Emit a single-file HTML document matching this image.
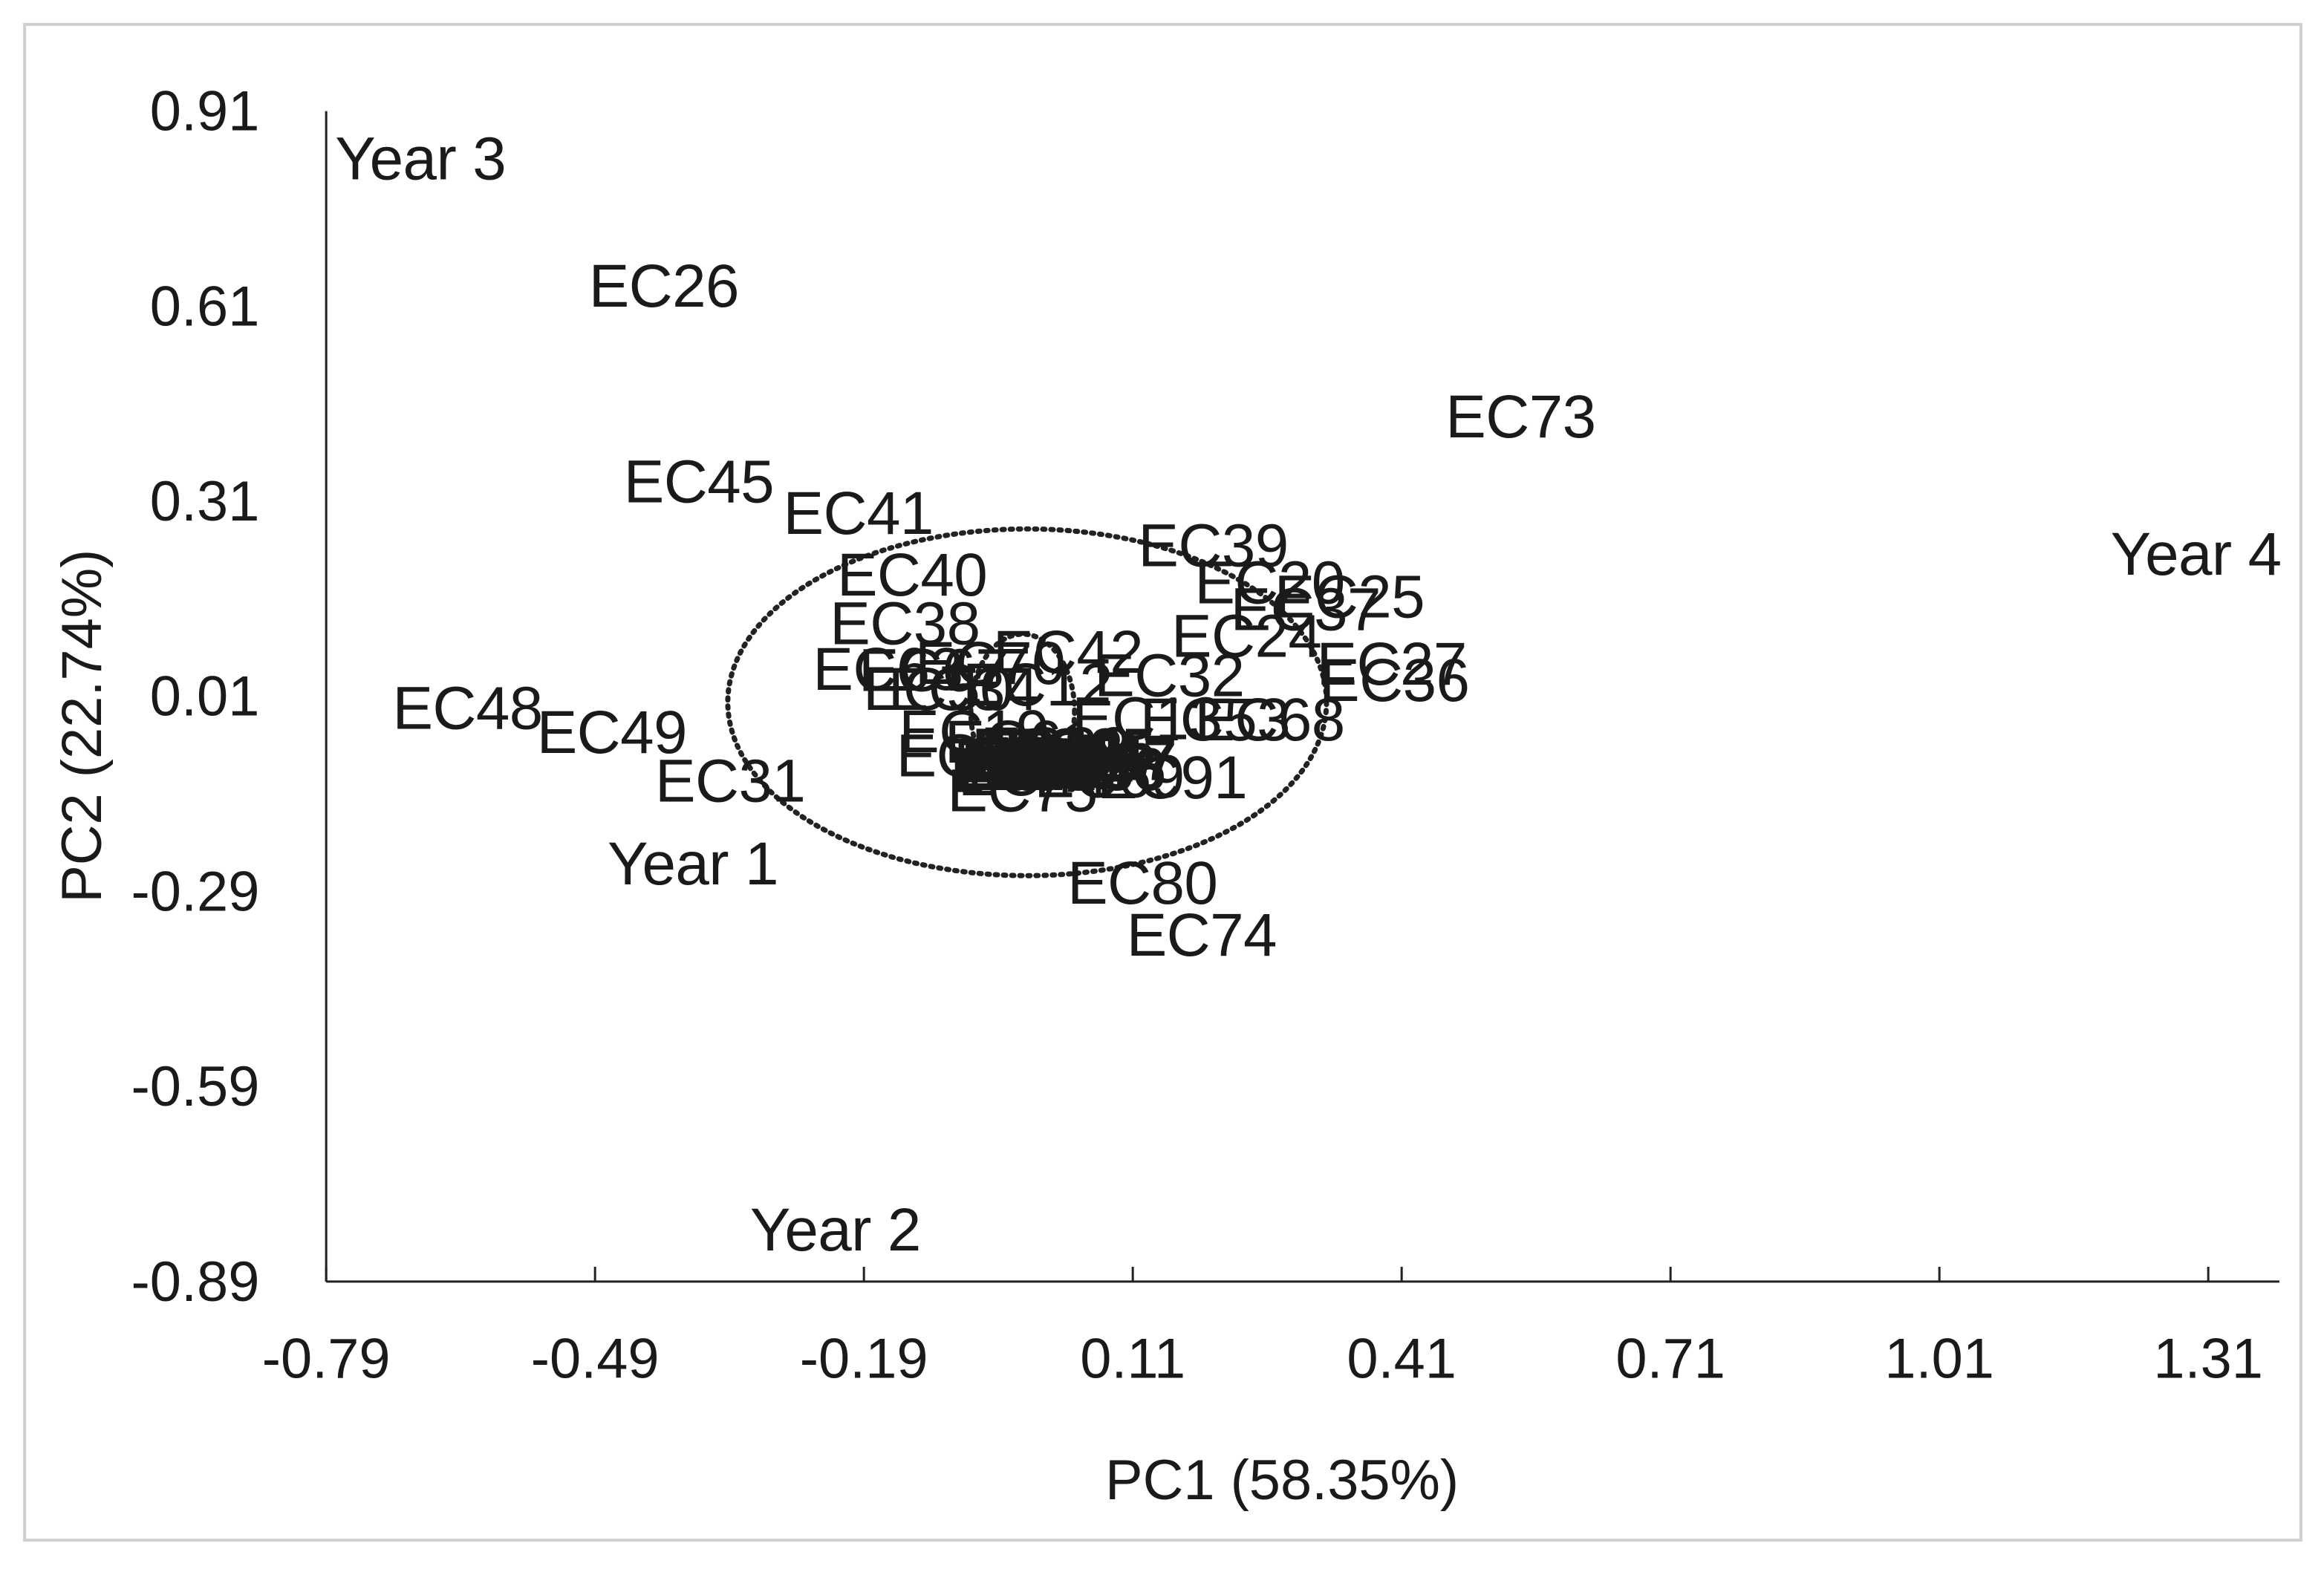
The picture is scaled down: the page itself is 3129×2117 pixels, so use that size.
<!DOCTYPE html>
<html><head><meta charset="utf-8"><style>
html,body{margin:0;padding:0;background:#fff;}
svg{display:block;}
text{font-family:"Liberation Sans",Arial,sans-serif;fill:#1a1a1a;}
</style></head><body>
<svg id="chart" width="3129" height="2117" viewBox="0 0 1568 1061" xmlns="http://www.w3.org/2000/svg">
<rect x="16.5" y="16.5" width="1536" height="1023" fill="#fff" stroke="#cfcfcf" stroke-width="2"/>
<g id="axes"></g>
<g id="marks"></g>
</svg>
<script>
const xTicks = [-0.79, -0.49, -0.19, 0.11, 0.41, 0.71, 1.01, 1.31];
const yTicks = [0.91, 0.61, 0.31, 0.01, -0.29, -0.59, -0.89];
const labels = ["Year 3","EC26","EC73","Year 4","EC45","EC41","EC39","EC40","EC20","EC25","EC37","EC38","EC24","EC27","EC36","EC48","EC49","EC31","Year 1","EC80","EC74","Year 2","EC68","EC32","EC42",
 "EC63","EC67","EC70","EC50","EC34","EC12","EC13","EC53","EC19","EC11","EC61","EC57","EC16","EC22","EC69","EC91","EC75","EC44","EC46","EC47"];
const pc1 = [-0.78,-0.497,0.459,1.201,-0.458,-0.28,0.116,-0.22,0.179,0.268,0.219,-0.228,0.153,0.315,0.318,-0.716,-0.555,-0.423,-0.476,0.037,0.103,-0.317,0.179,0.067,-0.046,
 -0.247,-0.196,-0.133,-0.191,-0.163,-0.08,0.042,0.118,-0.151,-0.154,-0.1,-0.09,-0.075,-0.06,0.0,0.07,-0.097,-0.085,-0.07,-0.05];
const pc2 = [0.837,0.641,0.44,0.229,0.34,0.292,0.242,0.197,0.185,0.163,0.144,0.122,0.103,0.06,0.035,-0.008,-0.045,-0.12,-0.247,-0.277,-0.357,-0.81,-0.026,0.042,0.078,
 0.052,0.05,0.061,0.021,0.021,0.028,-0.024,-0.026,-0.044,-0.081,-0.06,-0.09,-0.1,-0.07,-0.113,-0.115,-0.135,-0.11,-0.085,-0.095];

const X0=220, X1=1490, Y0=865, Y1=75;
function sx(v){return X0+(v-(-0.79))/(1.31-(-0.79))*(X1-X0);}
function sy(v){return Y0-(v-(-0.89))/(0.91-(-0.89))*(Y0-Y1);}
const NS="http://www.w3.org/2000/svg";
function mk(tag,attrs,parent,txt){const e=document.createElementNS(NS,tag);for(const k in attrs)e.setAttribute(k,attrs[k]);if(txt!==undefined)e.textContent=txt;parent.appendChild(e);return e;}
const axes=document.getElementById('axes'), marks=document.getElementById('marks');

let yl=mk('line',{x1:X0,y1:Y1,x2:X0,y2:Y0,stroke:'#222','stroke-width':1.5},axes);


let xl=mk('line',{x1:X0,y1:Y0,x2:1538,y2:Y0,stroke:'#222','stroke-width':1.5},axes);


xTicks.forEach(v=>{
  const x=sx(v);
  let t=mk('line',{x1:x,y1:Y0,x2:x,y2:Y0-10,stroke:'#222','stroke-width':1.5},axes);
  
  
  let l=mk('text',{x:x,y:Y0+65,'text-anchor':'middle','font-size':38},axes,v.toFixed(2));
  
  
});
yTicks.forEach(v=>{
  let l=mk('text',{x:175,y:sy(v)+13,'text-anchor':'end','font-size':38},axes,v.toFixed(2));
  
  
});
let xt=mk('text',{x:865,y:1012,'text-anchor':'middle','font-size':38},axes,'PC1 (58.35%)');


let yt=mk('text',{x:0,y:0,'text-anchor':'middle','font-size':38,transform:'translate(68,490) rotate(-90)'},axes,'PC2 (22.74%)');



let el1=mk('ellipse',{cx:693,cy:474,rx:202,ry:117,fill:'none',stroke:'#222','stroke-width':3.5,'stroke-dasharray':'1.5 4','stroke-linecap':'round'},marks);


let el2=mk('ellipse',{cx:690,cy:480,rx:35,ry:52,fill:'none',stroke:'#222','stroke-width':3.5,'stroke-dasharray':'1.5 4','stroke-linecap':'round'},marks);



labels.forEach((n,i)=>{
  const t=mk('text',{x:sx(pc1[i]),y:sy(pc2[i])+14,'font-size':41,'letter-spacing':-0.3},marks,n);
  
  
});
for(let k=0;k<8;k++){
  const t=mk('text',{x:sx(-0.093+k*0.012),y:sy(-0.102+(k%3)*0.015)+14,'font-size':41,'font-weight':'bold','letter-spacing':-0.3},marks,'EC4'+k);
  
  
}
</script>
</body></html>
